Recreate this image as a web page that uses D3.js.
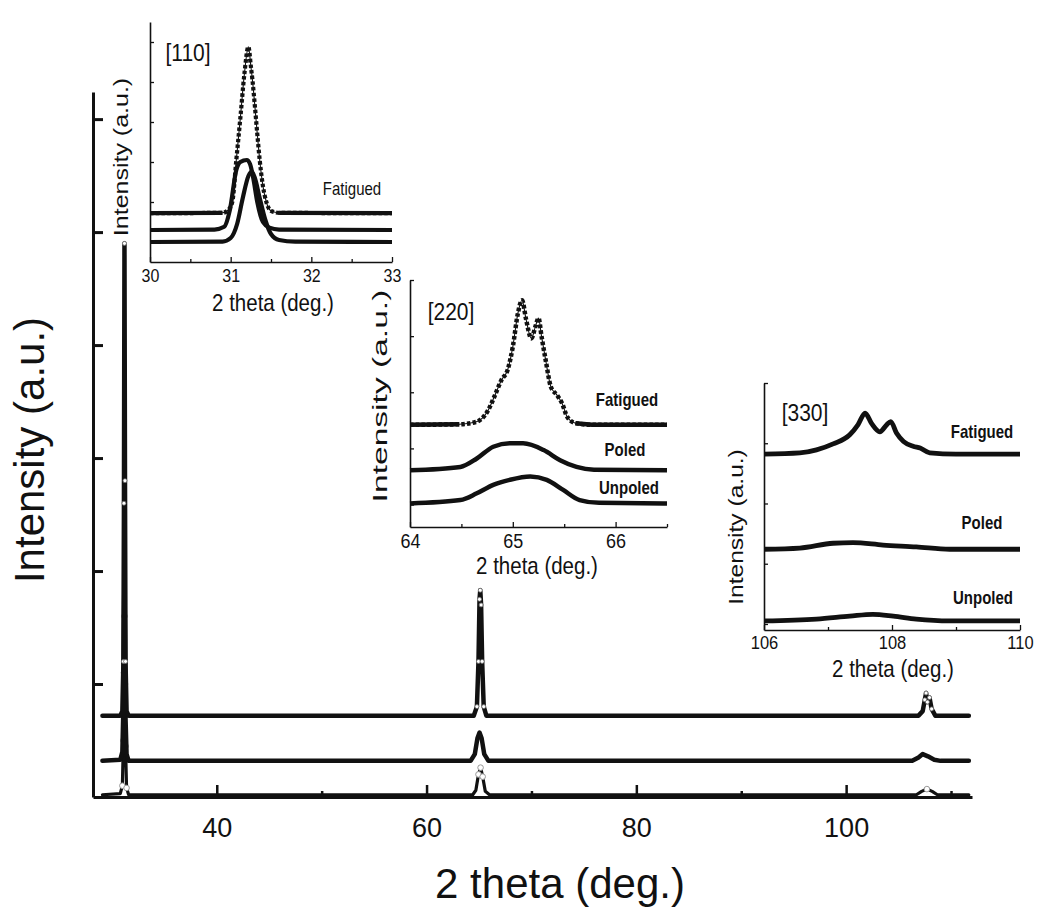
<!DOCTYPE html>
<html>
<head>
<meta charset="utf-8">
<script src="https://cdn.jsdelivr.net/npm/d3@7"></script>
<style>
  html, body { margin: 0; padding: 0; background: #fff; }
  svg { display: block; font-family: "Liberation Sans", Arial, Helvetica, sans-serif; }
</style>
</head>
<body>
<svg id="chart" width="1050" height="924"></svg>
<script>
// ---------------- DATA ----------------
// Main pattern: [2theta (deg), intensity (a.u., stacked offset included)]
const mainFatigued = [
  [29.1,0.72],[30.8,0.72],[31.0,0.76],[31.1,1.2],[31.15,2.6],[31.2,4.9],[31.25,2.8],[31.3,1.2],[31.4,0.76],[31.6,0.72],
  [64.5,0.72],[64.8,0.8],[64.95,1.2],[65.05,1.75],[65.12,1.83],[65.2,1.7],[65.3,1.2],[65.45,0.8],[65.7,0.72],
  [106.9,0.72],[107.3,0.76],[107.5,0.86],[107.62,0.92],[107.75,0.84],[107.95,0.88],[108.15,0.78],[108.5,0.72],[111.7,0.72]
];
const mainPoled = [
  [29.1,0.32],[30.8,0.33],[31.0,0.4],[31.1,0.8],[31.15,1.5],[31.2,2.0],[31.25,1.4],[31.3,0.7],[31.4,0.38],[31.6,0.32],
  [64.2,0.32],[64.6,0.38],[64.85,0.52],[65.05,0.57],[65.25,0.52],[65.5,0.38],[65.9,0.32],
  [106.3,0.32],[106.9,0.35],[107.3,0.38],[107.8,0.36],[108.4,0.33],[109.0,0.32],[111.7,0.32]
];
const mainUnpoled = [
  [29.1,0.02],[30.8,0.03],[31.0,0.1],[31.1,0.5],[31.15,1.1],[31.2,1.6],[31.25,1.0],[31.3,0.45],[31.4,0.08],[31.6,0.02],
  [64.4,0.02],[64.7,0.06],[64.95,0.2],[65.15,0.26],[65.35,0.18],[65.6,0.05],[66.0,0.02],
  [106.7,0.02],[107.2,0.05],[107.7,0.07],[108.2,0.05],[108.7,0.02],[111.7,0.02]
];
const mainXTicks = [40,50,60,70,80,90,100,110];
const mainXLabels = [40,60,80,100];
const mainYTicks = [1,2,3,4,5,6];

// Inset [110]
const i110Fatigued = [
  [30.0,1.22],[30.9,1.23],[30.97,1.3],[31.02,1.5],[31.07,2.55],[31.12,3.6],[31.17,4.7],[31.22,5.38],[31.25,4.9],
  [31.27,4.55],[31.3,3.9],[31.33,3.2],[31.36,2.55],[31.4,1.9],[31.45,1.45],[31.5,1.28],[31.6,1.23],[33.0,1.22]
];
const i110Poled = [
  [30.0,0.8],[30.8,0.81],[30.92,0.88],[30.99,1.3],[31.07,2.3],[31.12,2.5],[31.2,2.55],[31.24,2.45],[31.28,2.1],
  [31.33,1.5],[31.4,1.0],[31.48,0.86],[31.6,0.81],[33.0,0.8]
];
const i110Unpoled = [
  [30.0,0.5],[30.9,0.51],[31.0,0.6],[31.08,0.95],[31.15,1.6],[31.22,2.15],[31.26,2.26],[31.3,2.1],[31.36,1.6],
  [31.43,1.05],[31.5,0.7],[31.6,0.55],[31.8,0.51],[33.0,0.5]
];
const i110XTicks = [30,30.5,31,31.5,32,32.5,33];
const i110XLabels = [30,31,32,33];
const i110YTicks = [0.5,1.5,2.5,3.5,4.5,5.5];

// Inset [220]
const i220Fatigued = [
  [64.0,1.42],[64.48,1.43],[64.64,1.47],[64.76,1.68],[64.82,1.92],[64.89,2.22],[64.95,2.4],[65.0,2.81],[65.05,3.41],
  [65.09,3.64],[65.13,3.29],[65.18,2.96],[65.22,3.17],[65.25,3.32],[65.28,2.99],[65.32,2.57],[65.37,2.1],[65.43,1.95],
  [65.48,1.8],[65.53,1.56],[65.61,1.45],[65.77,1.42],[66.5,1.42]
];
const i220Poled = [
  [64.0,0.61],[64.49,0.67],[64.65,0.82],[64.81,1.03],[64.97,1.09],[65.1,1.09],[65.3,0.97],[65.46,0.79],[65.62,0.67],
  [65.79,0.62],[66.5,0.61]
];
const i220Unpoled = [
  [64.0,0.02],[64.49,0.08],[64.65,0.2],[64.81,0.35],[64.97,0.44],[65.17,0.5],[65.33,0.44],[65.49,0.26],[65.65,0.08],
  [65.84,0.03],[66.5,0.02]
];
const i220XTicks = [64,64.5,65,65.5,66,66.5];
const i220XLabels = [64,65,66];
const i220YTicks = [0,1,2,3,4];

// Inset [330]
const i330Fatigued = [
  [106.0,2.82],[106.56,2.84],[106.82,2.89],[107.08,2.99],[107.34,3.14],[107.47,3.31],[107.58,3.5],[107.68,3.33],
  [107.81,3.19],[107.92,3.31],[107.98,3.36],[108.07,3.17],[108.18,3.03],[108.33,2.95],[108.44,2.92],[108.59,2.84],
  [109.0,2.82],[110.0,2.82]
];
const i330Poled = [
  [106.0,1.24],[106.56,1.26],[107.08,1.34],[107.39,1.35],[107.86,1.31],[108.38,1.28],[108.9,1.24],[110.0,1.24]
];
const i330Unpoled = [
  [106.0,0.05],[106.82,0.08],[107.34,0.13],[107.7,0.16],[108.02,0.13],[108.38,0.08],[108.9,0.05],[110.0,0.05]
];
const i330XTicks = [106,107,108,109,110];
const i330XLabels = [106,108,110];
const i330YTicks = [0,1,2,3,4];

const sampleNames = ["Fatigued","Poled","Unpoled"];

// ---------------- DRAW ----------------
const svg = d3.select("#chart");
svg.append("rect").attr("width",1050).attr("height",924).attr("fill","#fff");

function label(sel, str, cx, cy, size, sy, rot, weight) {
  const g = sel.append("g")
    .attr("transform", `translate(${cx},${cy}) scale(1,${sy})${rot ? " rotate(-90)" : ""}`);
  g.append("text").attr("text-anchor","middle").attr("dy","0.35em")
    .attr("font-size", size).attr("font-weight", weight || "normal")
    .attr("fill","#111").text(str);
}

// ---- main chart ----
const mx = d3.scaleLinear().domain([28.2, 112]).range([93, 972]);
const my = d3.scaleLinear().domain([0, 6.24]).range([797, 92]);
const main = svg.append("g");

const mline = d3.line().x(d => mx(d[0])).y(d => my(d[1]));

function mainSeries(data, lineW, mk) {
  main.append("path").datum(data).attr("d", mline)
    .attr("fill","none").attr("stroke", "#111").attr("stroke-width", lineW)
    .attr("stroke-linejoin","round").attr("stroke-linecap","round");
  if (mk) {
    const base = data[0][1];
    main.append("g").selectAll("circle").data(data.filter(d => d[1] > base + 0.04)).join("circle")
      .attr("cx", d => mx(d[0])).attr("cy", d => my(d[1])).attr("r", mk.r)
      .attr("fill", mk.fill).attr("stroke", mk.stroke).attr("stroke-width", mk.sw);
  }
}
mainSeries(mainUnpoled, 3.2, {r:2.8, fill:"#fff", stroke:"#999", sw:1});
mainSeries(mainPoled, 4.5, null);
mainSeries(mainFatigued, 4.5, {r:2.0, fill:"#fff", stroke:"#666", sw:0.8});

const mxAxis = main.append("g").attr("transform","translate(0,797)")
  .call(d3.axisBottom(mx).tickValues(mainXTicks).tickSizeInner(-12).tickSizeOuter(0).tickPadding(21)
        .tickFormat(d => mainXLabels.includes(d) ? d : ""));
mxAxis.select(".domain").attr("stroke-width",3).attr("stroke","#111");
mxAxis.selectAll(".tick line").attr("stroke-width",2.5).attr("stroke","#111")
  .attr("y2", d => mainXLabels.includes(d) ? -12 : -6);
mxAxis.selectAll(".tick text").attr("font-size",27).attr("fill","#111").attr("font-family","Liberation Sans, Arial, sans-serif");

const myAxis = main.append("g").attr("transform","translate(93,0)")
  .call(d3.axisLeft(my).tickValues(mainYTicks).tickSizeInner(-10).tickSizeOuter(0).tickFormat(""));
myAxis.select(".domain").attr("stroke-width",3).attr("stroke","#111");
myAxis.selectAll(".tick line").attr("stroke-width",3).attr("stroke","#111");

label(svg, "Intensity (a.u.)", 29, 450, 42, 1, true);
label(svg, "2 theta (deg.)", 560, 883, 42, 1, false);

// ---- insets ----
function inset(cfg) {
  const g = svg.append("g");
  const x = d3.scaleLinear().domain(cfg.xd).range(cfg.xr);
  const y = d3.scaleLinear().domain(cfg.yd).range(cfg.yr);
  g.append("rect").attr("x", cfg.xr[0]).attr("y", cfg.yr[1]).attr("width", cfg.xr[1]-cfg.xr[0])
    .attr("height", cfg.yr[0]-cfg.yr[1]).attr("fill","#fff");
  const ln = d3.line().x(d => x(d[0])).y(d => y(d[1])).curve(d3.curveMonotoneX);
  cfg.series.forEach((s, i) => {
    const dashed = (i === 0 && cfg.dash);
    if (dashed) {
      g.append("path").datum(s).attr("d", ln).attr("fill","none").attr("stroke","#111")
        .attr("stroke-width", 1.1);
    }
    g.append("path").datum(s).attr("d", ln).attr("fill","none").attr("stroke","#111")
      .attr("stroke-width", cfg.sw).attr("stroke-linejoin","round")
      .attr("stroke-dasharray", dashed ? cfg.dash : null);
    if (dashed) {
      const base = s[0][1];
      const solid = d3.line().x(d => x(d[0])).y(d => y(d[1])).defined(d => d[1] < base + 0.04);
      g.append("path").datum(s).attr("d", solid).attr("fill","none").attr("stroke","#111")
        .attr("stroke-width", cfg.sw);
    }
  });
  const xa = g.append("g").attr("transform",`translate(0,${cfg.yr[0]})`)
    .call(d3.axisBottom(x).tickValues(cfg.xt).tickSizeInner(-4).tickSizeOuter(0).tickPadding(cfg.tp)
      .tickFormat(d => cfg.xl.includes(d) ? d : ""));
  xa.select(".domain").attr("stroke-width",1.6).attr("stroke","#111");
  xa.selectAll(".tick line").attr("stroke-width",1.3).attr("stroke","#111")
    .attr("y2", d => cfg.xl.includes(d) ? -5 : -3);
  xa.selectAll(".tick text").attr("font-size", cfg.tf).attr("fill","#111")
    .attr("font-family","Liberation Sans, Arial, sans-serif")
    .attr("transform", `scale(1,${cfg.tsy})`);
  const ya = g.append("g").attr("transform",`translate(${cfg.xr[0]},0)`)
    .call(d3.axisLeft(y).tickValues(cfg.yt).tickSizeInner(-4).tickSizeOuter(0).tickFormat(""));
  ya.select(".domain").attr("stroke-width",1.6).attr("stroke","#111");
  ya.selectAll(".tick line").attr("stroke-width",1.3).attr("stroke","#111");
  label(svg, cfg.title, cfg.titlePos[0], cfg.titlePos[1], 21, 1.15, false);
  label(svg, "Intensity (a.u.)", cfg.ylab[0], cfg.ylab[1], 21, cfg.ylab[2], true);
  label(svg, "2 theta (deg.)", cfg.xlab[0], cfg.xlab[1], 20.5, 1.2, false);
  cfg.names.forEach(n => label(svg, n[0], n[1], n[2], 15, 1.2, false, cfg.bold ? "bold" : "normal"));
}

inset({
  xd:[30,33], xr:[150,392], yd:[0,6], yr:[262,22],
  series:[i110Fatigued, i110Poled, i110Unpoled], sw:4.2, dash:"3.5,2.2",
  xt:i110XTicks, xl:i110XLabels, yt:i110YTicks, tp:5, tf:16, tsy:1.2,
  title:"[110]", titlePos:[188,53],
  ylab:[121,157,1.19], xlab:[273,302],
  names:[[sampleNames[0],352,189]], bold:false
});
inset({
  xd:[64,66.5], xr:[410,667], yd:[-0.4,4], yr:[527,280],
  series:[i220Fatigued, i220Poled, i220Unpoled], sw:4.5, dash:"3.5,2.2",
  xt:i220XTicks, xl:i220XLabels, yt:i220YTicks, tp:6, tf:18, tsy:1.1,
  title:"[220]", titlePos:[451,312],
  ylab:[380,396,1.6], xlab:[537,565],
  names:[[sampleNames[0],627,400],[sampleNames[1],625,450],[sampleNames[2],629,488]], bold:true
});
inset({
  xd:[106,110], xr:[764,1020], yd:[-0.1,4], yr:[630,383],
  series:[i330Fatigued, i330Poled, i330Unpoled], sw:4.8, dash:null,
  xt:i330XTicks, xl:i330XLabels, yt:i330YTicks, tp:6, tf:16.5, tsy:1.1,
  title:"[330]", titlePos:[805,413],
  ylab:[736,527,1.17], xlab:[893,668],
  names:[[sampleNames[0],982,432],[sampleNames[1],982,523],[sampleNames[2],983,598]], bold:true
});
</script>
</body>
</html>
